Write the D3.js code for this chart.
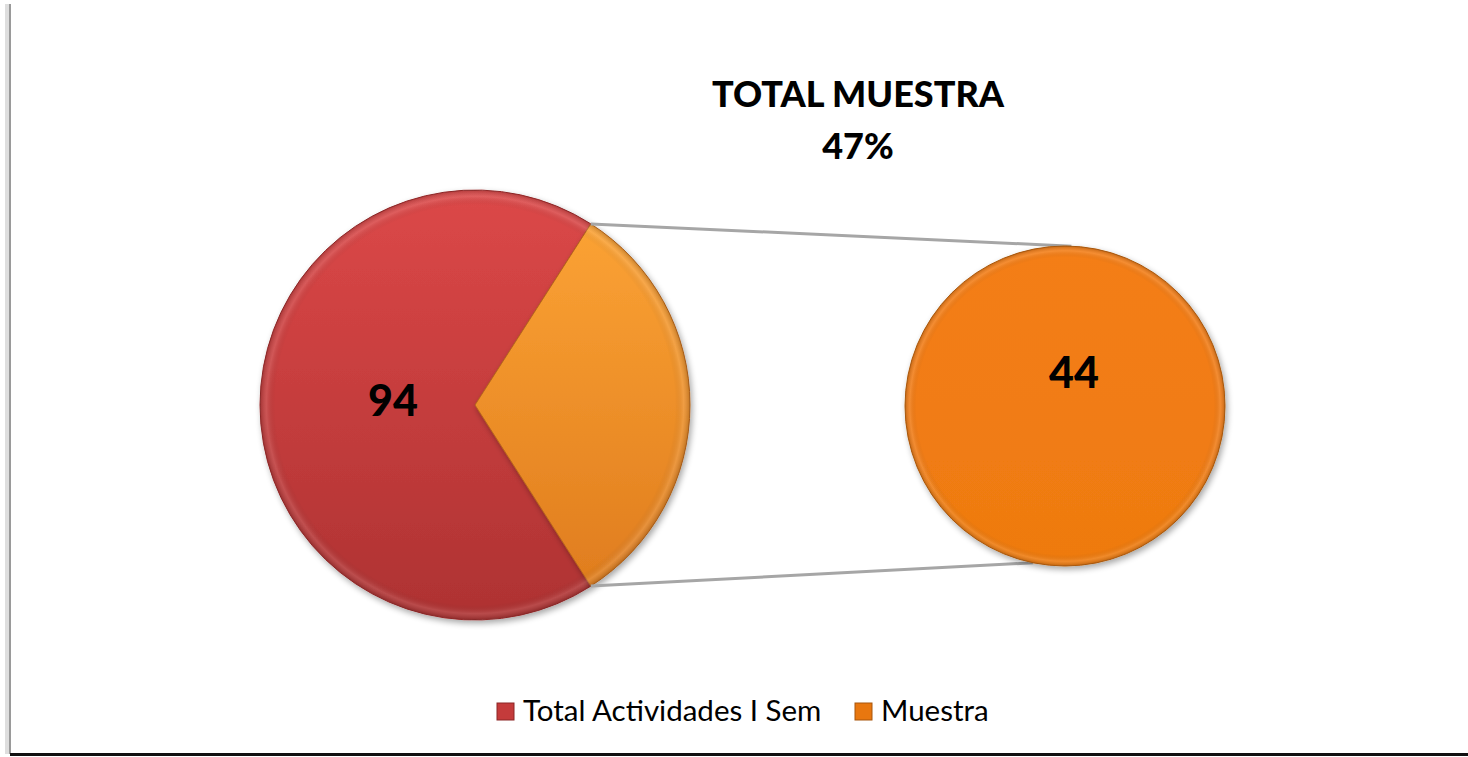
<!DOCTYPE html>
<html>
<head>
<meta charset="utf-8">
<script src="https://cdn.jsdelivr.net/npm/d3@7"></script>
<style>
  html, body { margin: 0; padding: 0; background: #fff; }
</style>
</head>
<body>
<div class="canvas"></div>
<script>
const categories = ["Total Actividades I Sem", "Muestra"];
const values = [94, 44];
const subValues = [44];
const title = ["TOTAL MUESTRA", "47%"];

const width = 1468, height = 757;
const font = "Lato, 'Open Sans', sans-serif";

const svg = d3.select('.canvas')
  .append('svg')
  .attr('width', width)
  .attr('height', height)
  .attr('viewBox', [0, 0, width, height]);

const defs = svg.append('defs');

function linGrad(id, top, bottom) {
  const g = defs.append('linearGradient').attr('id', id)
    .attr('x1', 0).attr('y1', 0).attr('x2', 0).attr('y2', 1);
  g.append('stop').attr('offset', '0%').attr('stop-color', top);
  g.append('stop').attr('offset', '100%').attr('stop-color', bottom);
}
linGrad('gRed', '#dc4848', '#ae3232');
linGrad('gOrange', '#fba234', '#e07d1e');
linGrad('gOrange2', '#f47e16', '#ee7a10');

// bevel: darker rim on the circle edge
const bevel = defs.append('radialGradient').attr('id', 'gBevel')
  .attr('cx', '50%').attr('cy', '50%').attr('r', '50%');
bevel.append('stop').attr('offset', '93%').attr('stop-color', '#000').attr('stop-opacity', 0);
bevel.append('stop').attr('offset', '97%').attr('stop-color', '#fff').attr('stop-opacity', 0.12);
bevel.append('stop').attr('offset', '100%').attr('stop-color', '#000').attr('stop-opacity', 0.18);

const shadow = defs.append('filter').attr('id', 'sh')
  .attr('x', '-10%').attr('y', '-10%').attr('width', '120%').attr('height', '120%');
shadow.append('feGaussianBlur').attr('in', 'SourceAlpha').attr('stdDeviation', 3);
shadow.append('feOffset').attr('dx', 2).attr('dy', 3).attr('result', 'b');
shadow.append('feComponentTransfer').append('feFuncA').attr('type', 'linear').attr('slope', 0.35);
const merge = shadow.append('feMerge');
merge.append('feMergeNode');
merge.append('feMergeNode').attr('in', 'SourceGraphic');

// frame
svg.append('rect').attr('x', 5).attr('y', 4).attr('width', 5).attr('height', 750)
  .attr('fill', '#c8c8c8').attr('opacity', 0.6);
svg.append('rect').attr('x', 9).attr('y', 4).attr('width', 2).attr('height', 750)
  .attr('fill', '#9a9a9a');
svg.append('rect').attr('x', 10).attr('y', 753).attr('width', width - 10).attr('height', 3)
  .attr('fill', '#111');

// main pie
const cx1 = 475, cy1 = 405, r1 = 215;
const cx2 = 1065, cy2 = 406, r2 = 160;

const total = d3.sum(values);
const orangeSpan = 2 * Math.PI * values[1] / total;
const start = Math.PI / 2 + orangeSpan / 2 - 2 * Math.PI;

const pie = d3.pie().sort(null).startAngle(start).endAngle(start + 2 * Math.PI);
const arcs = pie(values);
const arc = d3.arc().innerRadius(0).outerRadius(r1);
const fills = ['url(#gRed)', 'url(#gOrange)'];
const legendFills = ['#c43b3b', '#e8770f'];

const g1 = svg.append('g').attr('transform', `translate(${cx1},${cy1})`);
g1.selectAll('path.slice')
  .data(arcs)
  .join('path')
  .attr('class', 'slice')
  .attr('d', arc)
  .attr('fill', (d, i) => fills[i])
  .attr('stroke', (d, i) => i === 0 ? '#9c2c2c' : '#b8661c')
  .attr('stroke-width', 1)
  .attr('filter', 'url(#sh)');
g1.append('circle').attr('r', r1).attr('fill', 'url(#gBevel)').attr('pointer-events', 'none');

// connector lines
const oa = arcs[1];
const p = a => [Math.sin(a), -Math.cos(a)];
const topA = p(oa.startAngle), botA = p(oa.endAngle);
const topB = p(0.04), botB = p(Math.PI + 0.2);
svg.append('line')
  .attr('x1', cx1 + r1 * topA[0]).attr('y1', cy1 + r1 * topA[1])
  .attr('x2', cx2 + r2 * topB[0]).attr('y2', cy2 + r2 * topB[1])
  .attr('stroke', '#a6a6a6').attr('stroke-width', 3);
svg.append('line')
  .attr('x1', cx1 + r1 * botA[0]).attr('y1', cy1 + r1 * botA[1])
  .attr('x2', cx2 + r2 * botB[0]).attr('y2', cy2 + r2 * botB[1])
  .attr('stroke', '#a6a6a6').attr('stroke-width', 3);

// secondary pie
const arcs2 = d3.pie().sort(null)(subValues);
const arc2 = d3.arc().innerRadius(0).outerRadius(r2);
const g2 = svg.append('g').attr('transform', `translate(${cx2},${cy2})`);
g2.selectAll('path.slice')
  .data(arcs2)
  .join('path')
  .attr('class', 'slice')
  .attr('d', arc2)
  .attr('fill', 'url(#gOrange2)')
  .attr('stroke', '#b8600f')
  .attr('stroke-width', 1)
  .attr('filter', 'url(#sh)');
g2.append('circle').attr('r', r2).attr('fill', 'url(#gBevel)').attr('pointer-events', 'none');

// data labels
svg.append('text')
  .attr('x', 393).attr('y', 416)
  .attr('text-anchor', 'middle')
  .attr('font-family', font).attr('font-weight', 900).attr('font-size', 43)
  .text(values[0]);
svg.append('text')
  .attr('x', 1074).attr('y', 388)
  .attr('text-anchor', 'middle')
  .attr('font-family', font).attr('font-weight', 900).attr('font-size', 43)
  .text(subValues[0]);

// title
svg.selectAll('text.title')
  .data(title)
  .join('text')
  .attr('class', 'title')
  .attr('x', 858)
  .attr('y', (d, i) => 107 + i * 52)
  .attr('text-anchor', 'middle')
  .attr('font-family', font).attr('font-weight', 900).attr('font-size', 36)
  .text(d => d);

// legend
const legendX = [497, 855];
const lg = svg.selectAll('g.legend')
  .data(categories)
  .join('g')
  .attr('class', 'legend')
  .attr('transform', (d, i) => `translate(${legendX[i]},703)`);
lg.append('rect')
  .attr('width', 17).attr('height', 17)
  .attr('fill', (d, i) => legendFills[i])
  .attr('stroke', (d, i) => i === 0 ? '#8c2626' : '#a8560c')
  .attr('stroke-width', 1);
lg.append('text')
  .attr('x', 26).attr('y', 18)
  .attr('font-family', font).attr('font-size', 29.5)
  .attr('fill', '#000')
  .text(d => d);
</script>
</body>
</html>
